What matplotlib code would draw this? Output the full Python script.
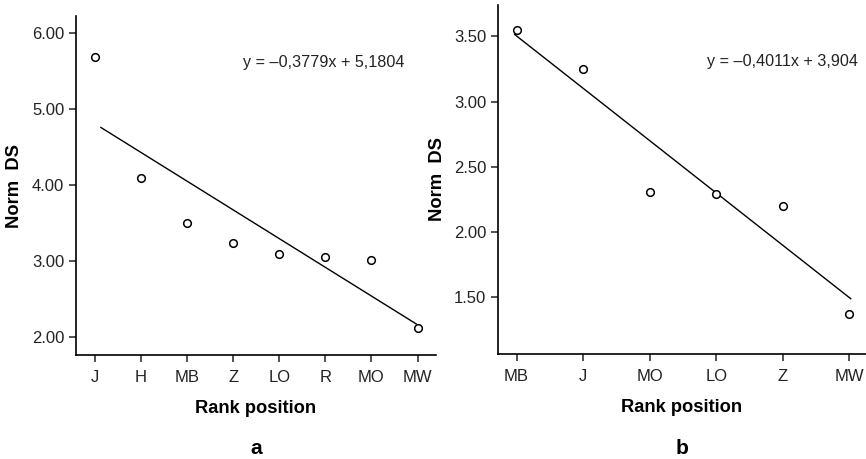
import numpy as np
import matplotlib.pyplot as plt

plt.rcParams['font.family'] = ['Liberation Sans', 'DejaVu Sans']

# panel a
ranks_a = ['J', 'H', 'MB', 'Z', 'LO', 'R', 'MO', 'MW']
ds_a = [5.68, 4.09, 3.50, 3.23, 3.09, 3.05, 3.01, 2.12]
slope_a, icpt_a = -0.3779, 5.1804
eq_a = 'y = \u20130,3779x + 5,1804'

# panel b
ranks_b = ['MB', 'J', 'MO', 'LO', 'Z', 'MW']
ds_b = [3.55, 3.25, 2.31, 2.29, 2.20, 1.37]
slope_b, icpt_b = -0.4011, 3.904
eq_b = 'y = \u20130,4011x + 3,904'

fig = plt.figure(figsize=(8.66, 4.59), dpi=100)
ax1 = fig.add_axes([0.0878, 0.2266, 0.4157, 0.7385])
ax2 = fig.add_axes([0.575, 0.229, 0.425, 0.760])


def panel(ax, ranks, ds, slope, icpt, eq, xlim, ylim, yticks, fitx, eqpos):
    x = np.arange(1, len(ranks) + 1)
    ax.plot(x, ds, 'o', mfc='white', mec='black', ms=5.5, mew=1.1, zorder=3)
    fx = np.array(fitx)
    ax.plot(fx, slope * fx + icpt, color='black', lw=1.0)
    ax.set_xlim(*xlim)
    ax.set_ylim(*ylim)
    ax.set_xticks(x)
    ax.set_xticklabels(ranks)
    ax.set_yticks(yticks)
    ax.set_yticklabels(['%.2f' % v for v in yticks])
    for s in ['top', 'right']:
        ax.spines[s].set_visible(False)
    for s in ['left', 'bottom']:
        ax.spines[s].set_linewidth(1.2)
    ax.tick_params(direction='out', length=5, width=1.1, labelsize=12, colors='#222222')
    ax.tick_params(axis='x', pad=6)
    ax.set_xlabel('Rank position', fontsize=13.2, fontweight='bold')
    ax.set_ylabel('Norm  DS', fontsize=13.2, fontweight='bold')
    ax.text(eqpos[0], eqpos[1], eq, transform=ax.transAxes, fontsize=11.6, color='#222222',
            ha='left', va='center')


panel(ax1, ranks_a, ds_a, slope_a, icpt_a, eq_a, (0.59, 8.40), (1.76, 6.22),
      [2.0, 3.0, 4.0, 5.0, 6.0], [1.13, 7.97], (0.463, 0.864))
panel(ax2, ranks_b, ds_b, slope_b, icpt_b, eq_b, (0.72, 6.25), (1.066, 3.74),
      [1.5, 2.0, 2.5, 3.0, 3.5], [0.97, 6.02], (0.569, 0.838))

ax1.xaxis.set_label_coords(0.5, -0.132)
ax2.xaxis.set_label_coords(0.5, -0.13)
ax1.yaxis.set_label_coords(-0.147, 0.5)
ax2.yaxis.set_label_coords(-0.14, 0.5)

fig.text(256 / 866, 1 - 448 / 459, 'a', fontsize=15, fontweight='bold', ha='center', va='center')
fig.text(682 / 866, 1 - 448 / 459, 'b', fontsize=15, fontweight='bold', ha='center', va='center')

fig.savefig('out.png', dpi=100)
